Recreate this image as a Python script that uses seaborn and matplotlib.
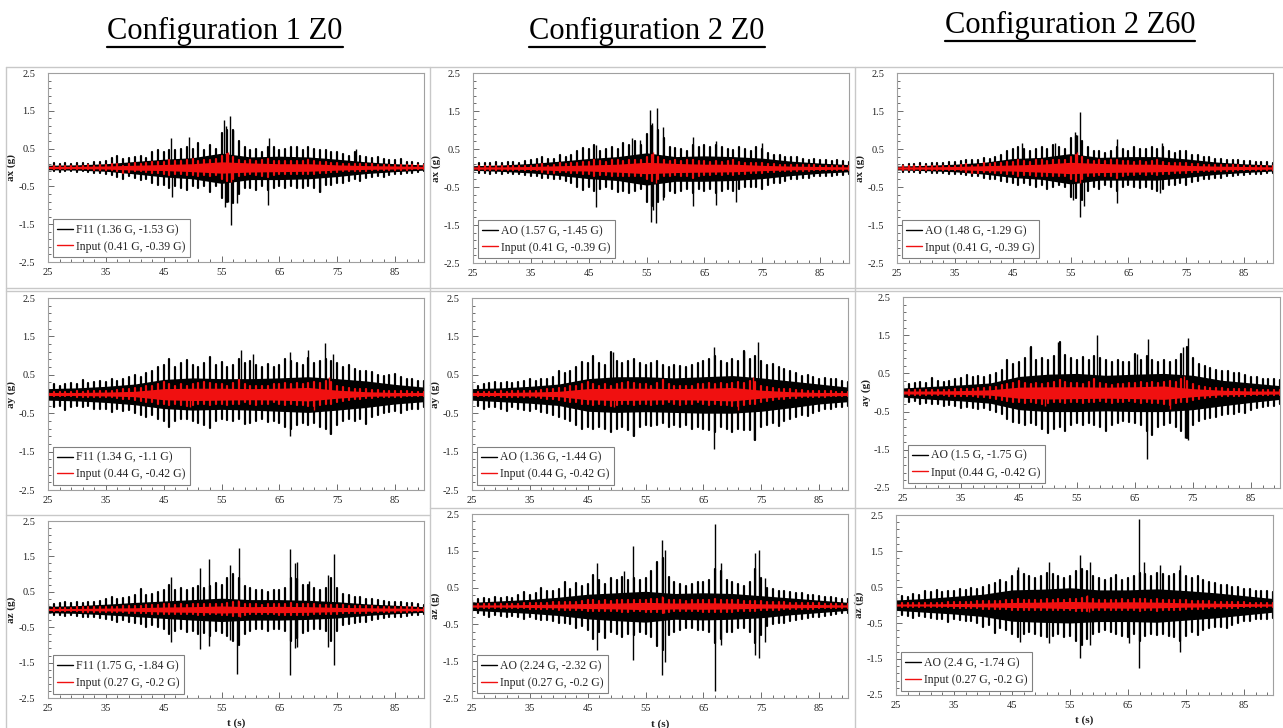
import numpy as np
import matplotlib
matplotlib.use("Agg")
import matplotlib.pyplot as plt
from matplotlib.lines import Line2D
import seaborn as sns

# ---------------------------------------------------------------- data
# coarse grid (s) for the dense core of each record, 1 s grid for its envelope
TIME_CORE = [25, 30, 35, 40, 45, 50, 55, 60, 65, 70, 75, 80, 85, 90]
TIME_ENV = list(range(25, 91))

COLUMN_TITLES = ["Configuration 1 Z0", "Configuration 2 Z0", "Configuration 2 Z60"]
COMPONENTS = ["ax", "ay", "az"]
SENSOR_NAMES = ["F11", "AO", "AO"]

# ===== ax, Configuration 1 Z0 (F11)
AX_C1_CORE_HI = [.06, .07, .10, .16, .22, .26, .38, .28, .30, .28, .22, .15, .10, .07]
AX_C1_CORE_LO = [-.06, -.07, -.10, -.17, -.25, -.30, -.42, -.32, -.32, -.30, -.24, -.16, -.11, -.07]
AX_C1_ENV_HI = [.10, .12, .10, .12, .10, .12, .12, .10, .15, .15,
                .18, .25, .30, .22, .25, .28, .30, .25, .40, .46,
                .40, .45, .45, .50, .55, .50, .64, .45, .60, .50,
                .90, 1.0, 1.0, .70, .55, .45, .50, .40, .55, .55,
                .45, .50, .55, .55, .45, .55, .50, .45, .45, .40,
                .42, .35, .30, .40, .30, .28, .25, .28, .22, .20,
                .20, .22, .15, .15, .12, .10]
AX_C1_ENV_LO = [-.10, -.10, -.12, -.10, -.10, -.12, -.10, -.12, -.15, -.15,
                -.18, -.20, -.25, -.30, -.22, -.28, -.33, -.30, -.40, -.45,
                -.45, -.55, -.50, -.55, -.60, -.50, -.55, -.50, -.64, -.50,
                -.80, -.90, -.95, -.70, -.55, -.55, -.60, -.50, -.60, -.55,
                -.50, -.55, -.50, -.55, -.55, -.50, -.55, -.64, -.45, -.45,
                -.40, -.40, -.35, -.30, -.35, -.28, -.25, -.22, -.25, -.20,
                -.18, -.18, -.15, -.15, -.12, -.10]
AX_C1_PEAK_T = [46.2, 49.3, 55.4, 55.8, 56.4, 57.0, 63.2, 78.2,
                46.4, 55.6, 56.1, 56.7, 57.6, 63.1, 72.0]
AX_C1_PEAK_V = [0.77, 0.82, 1.26, 1.10, 1.36, 1.00, 0.77, 0.50,
                -0.77, -1.04, -0.90, -1.53, -0.95, -1.00, -0.64]

# ===== ax, Configuration 2 Z0 (AO)
AX_C2_CORE_HI = [.06, .08, .12, .18, .25, .30, .40, .30, .32, .30, .26, .18, .13, .09]
AX_C2_CORE_LO = [-.06, -.09, -.13, -.20, -.28, -.33, -.45, -.35, -.35, -.33, -.28, -.20, -.14, -.10]
AX_C2_ENV_HI = [.10, .12, .12, .12, .15, .12, .15, .15, .12, .18,
                .20, .25, .30, .25, .25, .34, .30, .35, .45, .52,
                .50, .60, .45, .50, .55, .50, .65, .60, .70, .60,
                .90, 1.10, 1.0, .80, .55, .52, .50, .45, .60, .55,
                .60, .55, .60, .56, .50, .48, .55, .50, .45, .55,
                .50, .40, .35, .35, .30, .30, .28, .25, .22, .25,
                .22, .20, .18, .20, .18, .15]
AX_C2_ENV_LO = [-.10, -.12, -.12, -.15, -.12, -.15, -.12, -.15, -.15, -.18,
                -.20, -.22, -.25, -.27, -.30, -.30, -.35, -.40, -.50, -.58,
                -.50, -.60, -.55, -.50, -.55, -.62, -.60, -.67, -.60, -.55,
                -.90, -1.0, -.90, -.75, -.60, -.67, -.60, -.55, -.65, -.55,
                -.60, -.55, -.65, -.60, -.55, -.60, -.55, -.50, -.50, -.50,
                -.54, -.45, -.40, -.40, -.35, -.30, -.30, -.25, -.25, -.22,
                -.22, -.20, -.20, -.18, -.18, -.15]
AX_C2_PEAK_T = [46.2, 52.5, 53.9, 55.6, 56.0, 56.8, 57.9, 63.1, 67.0, 74.9,
                46.2, 55.7, 56.2, 56.7, 57.8, 63.1, 67.0, 70.4]
AX_C2_PEAK_V = [0.60, 0.78, 0.74, 1.53, 1.18, 1.57, 1.09, 0.81, 0.70, 0.65,
                -1.02, -1.42, -1.10, -1.45, -0.85, -1.00, -0.98, -0.89]

# ===== ax, Configuration 2 Z60 (AO)
AX_C3_CORE_HI = [.05, .07, .10, .15, .25, .28, .38, .28, .30, .30, .24, .16, .11, .08]
AX_C3_CORE_LO = [-.05, -.07, -.10, -.16, -.25, -.30, -.42, -.32, -.32, -.32, -.25, -.17, -.12, -.08]
AX_C3_ENV_HI = [.08, .08, .10, .10, .12, .10, .12, .12, .12, .15,
                .15, .18, .20, .22, .20, .26, .25, .30, .35, .45,
                .50, .55, .50, .45, .50, .55, .50, .60, .55, .50,
                .80, .85, .70, .55, .45, .45, .40, .45, .55, .50,
                .45, .55, .50, .50, .55, .50, .55, .45, .40, .45,
                .45, .35, .35, .30, .30, .25, .25, .22, .20, .20,
                .18, .18, .15, .15, .15, .12]
AX_C3_ENV_LO = [-.08, -.10, -.10, -.10, -.12, -.10, -.12, -.12, -.12, -.15,
                -.15, -.15, -.18, -.20, -.20, -.25, -.28, -.30, -.35, -.38,
                -.40, -.44, -.40, -.45, -.50, -.45, -.55, -.50, -.45, -.50,
                -.75, -.80, -.85, -.60, -.50, -.55, -.45, -.50, -.60, -.50,
                -.45, -.50, -.53, -.50, -.55, -.60, -.55, -.45, -.45, -.40,
                -.45, -.38, -.35, -.30, -.30, -.25, -.25, -.22, -.20, -.18,
                -.18, -.15, -.15, -.15, -.12, -.12]
AX_C3_PEAK_T = [46.6, 52.4, 55.7, 56.1, 56.7, 63.0, 70.8,
                55.5, 56.7, 57.3, 63.0, 70.5]
AX_C3_PEAK_V = [0.66, 0.66, 0.96, 0.88, 1.48, 0.76, 0.66,
                -0.83, -1.29, -1.00, -0.92, -0.66]

# ===== ay, Configuration 1 Z0 (F11)
AY_C1_CORE_HI = [.14, .16, .20, .26, .38, .42, .40, .40, .42, .45, .40, .34, .25, .18]
AY_C1_CORE_LO = [-.16, -.18, -.22, -.28, -.38, -.42, -.40, -.42, -.45, -.48, -.42, -.35, -.26, -.20]
AY_C1_ENV_HI = [.28, .25, .22, .25, .28, .25, .36, .28, .30, .35,
                .30, .40, .35, .38, .45, .49, .45, .55, .60, .70,
                .75, .92, .70, .80, .88, .75, .70, .80, .97, .75,
                .83, .70, .75, .90, .80, .85, .75, .70, .79, .70,
                .75, .90, .85, .80, .75, .95, .80, .85, .90, .85,
                .80, .70, .75, .65, .60, .60, .58, .50, .48, .50,
                .53, .45, .40, .40, .35, .35]
AY_C1_ENV_LO = [-.30, -.35, -.30, -.42, -.35, -.30, -.35, -.30, -.38, -.40,
                -.40, -.46, -.40, -.45, -.42, -.50, -.55, -.60, -.55, -.65,
                -.70, -.85, -.70, -.65, -.64, -.70, -.75, -.80, -.88, -.70,
                -.65, -.68, -.70, -.65, -.77, -.75, -.70, -.65, -.72, -.70,
                -.75, -.85, -.90, -.80, -.75, -.81, -.75, -.85, -.90, -1.03,
                -.80, -.70, -.65, -.70, -.65, -.77, -.60, -.55, -.50, -.48,
                -.45, -.50, -.42, -.40, -.38, -.35]
AY_C1_PEAK_T = [58.4, 60.5, 66.8, 70.0, 72.9, 74.3,
                66.8, 73.7]
AY_C1_PEAK_V = [1.14, 1.05, 1.10, 1.14, 1.34, 1.05,
                -1.10, -1.03]

# ===== ay, Configuration 2 Z0 (AO)
AY_C2_CORE_HI = [.14, .16, .20, .26, .40, .45, .45, .42, .45, .48, .42, .34, .26, .18]
AY_C2_CORE_LO = [-.16, -.20, -.24, -.30, -.45, -.48, -.46, -.48, -.50, -.50, -.45, -.36, -.26, -.20]
AY_C2_ENV_HI = [.25, .22, .25, .28, .30, .28, .30, .28, .30, .35,
                .39, .35, .38, .40, .45, .61, .55, .60, .70, .83,
                .80, .98, .80, .75, 1.10, .85, .80, .85, .91, .80,
                .75, .80, .87, .75, .70, .75, .74, .70, .75, .80,
                .85, .90, 1.0, .85, .80, .90, .85, 1.13, .90, 1.0,
                .85, .75, .78, .70, .65, .60, .55, .48, .50, .45,
                .40, .42, .38, .40, .35, .30]
AY_C2_ENV_LO = [-.25, -.30, -.40, -.35, -.35, -.38, -.44, -.35, -.40, -.42,
                -.45, -.40, -.48, -.50, -.55, -.60, -.65, -.70, -.80, -.91,
                -.85, -.90, -.85, -.90, -1.0, -.90, -.85, -.95, -1.09, -.85,
                -.80, -.83, -.80, -.75, -.87, -.80, -.85, -.80, -.91, -.85,
                -.90, -.95, -1.0, -.85, -.90, -1.0, -.90, -.95, -.95, -1.19,
                -.85, -.80, -.75, -.83, -.70, -.65, -.60, -.55, -.57, -.50,
                -.45, -.40, -.38, -.35, -.35, -.30]
AY_C2_PEAK_T = [49.4, 66.9, 72.1, 74.4,
                52.8, 66.9, 73.8]
AY_C2_PEAK_V = [1.10, 1.22, 1.13, 1.36,
                -1.09, -1.44, -1.19]

# ===== ay, Configuration 2 Z60 (AO)
AY_C3_CORE_HI = [.12, .16, .20, .25, .42, .48, .50, .45, .48, .50, .45, .32, .25, .18]
AY_C3_CORE_LO = [-.12, -.18, -.22, -.28, -.45, -.50, -.50, -.48, -.50, -.50, -.45, -.35, -.26, -.18]
AY_C3_ENV_HI = [.20, .22, .25, .28, .25, .37, .30, .28, .30, .35,
                .38, .46, .40, .42, .40, .45, .50, .60, .85, .75,
                .80, .90, 1.2, .85, .90, .85, .95, 1.33, .98, .90,
                .85, .93, .85, .95, .90, .85, .80, .85, .80, .80,
                1.0, .85, .95, .85, .80, .85, .80, .85, 1.0, 1.2,
                .90, .75, .70, .63, .60, .55, .55, .50, .50, .45,
                .40, .40, .35, .35, .35, .32]
AY_C3_ENV_LO = [-.25, -.25, -.22, -.30, -.28, -.30, -.30, -.35, -.32, -.35,
                -.41, -.38, -.40, -.42, -.40, -.45, -.50, -.55, -.70, -.76,
                -.80, -.85, -.80, -.85, -.95, -1.07, -.95, -.90, -1.02, -.85,
                -.80, -.85, -.80, -.85, -.90, -1.02, -.85, -.80, -.75, -.76,
                -.80, -.85, -1.0, -1.10, -.90, -.85, -.80, -.90, -1.0, -1.20,
                -.85, -.75, -.70, -.67, -.65, -.60, -.55, -.55, -.50, -.54,
                -.45, -.40, -.38, -.35, -.35, -.30]
AY_C3_PEAK_T = [46.9, 51.8, 58.4, 65.3, 67.3, 73.3, 74.2,
                67.1, 73.6, 74.2]
AY_C3_PEAK_V = [1.20, 1.33, 1.50, 1.02, 1.41, 1.20, 1.43,
                -1.75, -1.20, -1.24]

# ===== az, Configuration 1 Z0 (F11)
AZ_C1_CORE_HI = [.09, .11, .15, .20, .24, .28, .32, .28, .28, .26, .22, .16, .12, .08]
AZ_C1_CORE_LO = [-.09, -.11, -.15, -.20, -.25, -.30, -.34, -.30, -.30, -.28, -.24, -.17, -.12, -.08]
AZ_C1_ENV_HI = [.15, .15, .18, .20, .18, .20, .18, .22, .20, .25,
                .30, .36, .30, .32, .35, .40, .59, .40, .45, .50,
                .55, .70, .55, .60, .55, .60, .65, .60, .65, .75,
                .70, .90, 1.0, .90, .65, .60, .55, .55, .50, .55,
                .55, .60, .90, .85, .70, .70, .60, .55, .60, .90,
                .60, .45, .40, .35, .35, .30, .30, .28, .25, .22,
                .22, .20, .18, .18, .15, .12]
AZ_C1_ENV_LO = [-.12, -.15, -.15, -.18, -.15, -.18, -.20, -.20, -.22, -.25,
                -.28, -.30, -.35, -.30, -.35, -.38, -.40, -.49, -.45, -.50,
                -.55, -.70, -.60, -.55, -.63, -.60, -.70, -.65, -.75, -.60,
                -.65, -.75, -.90, -1.0, -.70, -.60, -.55, -.55, -.60, -.55,
                -.55, -.60, -.90, -.80, -.65, -.60, -.55, -.55, -.60, -.90,
                -.60, -.45, -.40, -.38, -.35, -.35, -.30, -.28, -.25, -.22,
                -.20, -.20, -.18, -.15, -.15, -.12]
AZ_C1_PEAK_T = [46.3, 51.2, 52.8, 56.4, 58.0, 66.9, 67.7, 68.1, 70.2, 73.4, 74.4,
                46.3, 51.2, 52.8, 56.4, 57.7, 66.8, 67.7, 68.1, 73.4, 74.5]
AZ_C1_PEAK_V = [0.92, 1.18, 1.44, 1.27, 1.75, 1.72, 1.30, 1.35, 0.80, 0.97, 1.58,
                -0.92, -1.12, -1.03, -0.87, -1.81, -1.84, -1.10, -1.06, -1.06, -1.58]

# ===== az, Configuration 2 Z0 (AO)
AZ_C2_CORE_HI = [.10, .14, .18, .24, .32, .36, .40, .34, .36, .34, .28, .22, .16, .10]
AZ_C2_CORE_LO = [-.12, -.16, -.20, -.26, -.35, -.40, -.44, -.36, -.38, -.36, -.32, -.24, -.18, -.12]
AZ_C2_ENV_HI = [.15, .20, .22, .20, .25, .22, .25, .22, .30, .39,
                .30, .35, .48, .40, .40, .45, .66, .45, .62, .55,
                .60, .85, .70, .60, .75, .70, .80, .70, .75, .70,
                .75, .94, 1.20, 1.30, .80, .65, .60, .55, .60, .65,
                .66, .70, 1.0, .95, .70, .65, .60, .55, .65, 1.0,
                .75, .50, .45, .40, .40, .38, .35, .35, .30, .30,
                .28, .25, .25, .22, .20, .18]
AZ_C2_ENV_LO = [-.15, -.20, -.25, -.30, -.25, -.28, -.30, -.28, -.30, -.35,
                -.30, -.35, -.38, -.38, -.40, -.45, -.45, -.50, -.61, -.55,
                -.65, -.90, -.70, -.88, -.70, -.75, -.84, -.75, -.80, -.70,
                -.75, -.85, -1.10, -1.20, -.80, -.70, -.65, -.60, -.60, -.65,
                -.65, -.70, -1.0, -.90, -.70, -.70, -.60, -.60, -.70, -1.0,
                -.80, -.55, -.50, -.45, -.45, -.40, -.38, -.35, -.32, -.30,
                -.30, -.28, -.25, -.22, -.20, -.18]
AZ_C2_PEAK_T = [46.6, 51.2, 52.9, 57.8, 58.4, 67.0, 68.0, 73.9, 74.6, 75.7,
                46.6, 52.9, 57.8, 58.4, 67.0, 68.0, 73.9, 74.6, 75.7]
AZ_C2_PEAK_V = [1.16, 0.94, 1.62, 1.80, 1.53, 2.24, 1.16, 1.44, 1.53, 0.75,
                -1.20, -1.47, -1.88, -1.52, -2.32, -1.06, -1.34, -1.41, -0.97]

# ===== az, Configuration 2 Z60 (AO)
AZ_C3_CORE_HI = [.14, .18, .24, .30, .42, .44, .48, .42, .42, .45, .40, .34, .26, .18]
AZ_C3_CORE_LO = [-.15, -.20, -.25, -.32, -.45, -.48, -.50, -.46, -.46, -.48, -.42, -.36, -.28, -.20]
AZ_C3_ENV_HI = [.20, .25, .22, .30, .28, .40, .35, .42, .35, .38,
                .40, .45, .42, .46, .45, .50, .55, .60, .70, .65,
                .80, .95, .85, .80, .75, .80, .90, .85, .80, .74,
                .80, .95, 1.0, .95, .80, .75, .70, .75, .83, .70,
                .75, .80, .90, .85, .80, .90, .85, .80, .85, .95,
                .80, .75, .80, .70, .65, .60, .55, .55, .51, .50,
                .45, .45, .40, .40, .38, .35]
AZ_C3_ENV_LO = [-.25, -.28, -.30, -.35, -.30, -.32, -.35, -.38, -.40, -.46,
                -.40, -.42, -.45, -.45, -.50, -.60, -.55, -.79, -.65, -.70,
                -.80, -.90, -.80, -.75, -.80, -.85, -.90, -.85, -.80, -.90,
                -.85, -1.0, -1.10, -.95, -.80, -.75, -.70, -.75, -.80, -.85,
                -.90, -.80, -1.0, -.85, -.80, -.83, -.80, -.85, -.90, -1.0,
                -.85, -.75, -.83, -.70, -.65, -.60, -.60, -.65, -.55, -.50,
                -.45, -.45, -.40, -.40, -.38, -.35]
AZ_C3_PEAK_T = [46.1, 51.3, 56.8, 58.5, 66.9, 67.7, 70.6, 74.0,
                46.4, 51.3, 56.8, 58.5, 65.1, 66.9, 74.0]
AZ_C3_PEAK_V = [1.06, 1.20, 1.39, 1.20, 2.40, 1.20, 1.11, 1.11,
                -1.02, -1.06, -1.48, -1.11, -1.06, -1.74, -1.30]

# ===== table input (same excitation for the three configurations)
AX_IN_CORE_HI = [.03, .03, .04, .06, .08, .10, .15, .12, .10, .10, .07, .05, .04, .03]
AX_IN_CORE_LO = [-.03, -.03, -.04, -.07, -.08, -.11, -.15, -.12, -.11, -.10, -.07, -.05, -.04, -.03]
AX_IN_ENV_HI = [.05, .05, .05, .05, .05, .05, .05, .06, .05, .06,
                .06, .08, .10, .05, .08, .12, .10, .12, .14, .15,
                .15, .20, .18, .16, .20, .22, .18, .20, .20, .22,
                .30, .35, .28, .20, .18, .20, .18, .20, .22, .18,
                .18, .16, .18, .16, .18, .20, .16, .14, .14, .12,
                .12, .10, .10, .09, .08, .08, .08, .07, .07, .07,
                .06, .06, .06, .06, .06, .06]
AX_IN_ENV_LO = [-.04, -.05, -.05, -.05, -.05, -.05, -.05, -.05, -.06, -.06,
                -.06, -.06, -.10, -.14, -.12, -.10, -.10, -.12, -.14, -.15,
                -.16, -.20, -.18, -.18, -.20, -.20, -.22, -.20, -.22, -.20,
                -.30, -.35, -.30, -.22, -.20, -.18, -.20, -.22, -.25, -.20,
                -.18, -.18, -.16, -.18, -.16, -.18, -.16, -.15, -.14, -.12,
                -.12, -.10, -.10, -.08, -.08, -.08, -.07, -.07, -.07, -.06,
                -.06, -.06, -.06, -.05, -.05, -.05]
AX_IN_PEAK_T = [56.2, 56.6]
AX_IN_PEAK_V = [0.41, -0.39]

AY_IN_CORE_HI = [.04, .04, .05, .07, .14, .15, .15, .14, .15, .17, .10, .06, .04, .04]
AY_IN_CORE_LO = [-.04, -.04, -.05, -.07, -.15, -.17, -.16, -.15, -.16, -.18, -.11, -.06, -.05, -.04]
AY_IN_ENV_HI = [.06, .06, .06, .06, .06, .07, .06, .07, .07, .08,
                .08, .08, .10, .12, .12, .15, .15, .20, .22, .25,
                .30, .25, .22, .25, .22, .25, .28, .32, .28, .25,
                .25, .22, .28, .36, .25, .22, .20, .22, .22, .25,
                .25, .28, .25, .28, .25, .28, .30, .28, .35, .30,
                .22, .18, .15, .12, .12, .12, .10, .10, .08, .08,
                .08, .07, .07, .06, .06, .06]
AY_IN_ENV_LO = [-.06, -.06, -.06, -.06, -.06, -.07, -.07, -.07, -.08, -.08,
                -.08, -.09, -.10, -.12, -.12, -.15, -.18, -.20, -.22, -.25,
                -.25, -.28, -.25, -.28, -.30, -.28, -.25, -.25, -.28, -.25,
                -.25, -.28, -.25, -.25, -.22, -.25, -.28, -.25, -.25, -.22,
                -.25, -.28, -.25, -.28, -.28, -.30, -.32, -.28, -.25, -.25,
                -.20, -.18, -.15, -.12, -.12, -.10, -.10, -.09, -.08, -.08,
                -.07, -.07, -.06, -.06, -.06, -.06]
AY_IN_PEAK_T = [73.5, 49.5, 71.0]
AY_IN_PEAK_V = [0.44, -0.35, -0.42]

AZ_IN_CORE_HI = [.03, .03, .04, .05, .07, .08, .10, .08, .09, .08, .06, .05, .04, .03]
AZ_IN_CORE_LO = [-.03, -.03, -.04, -.05, -.07, -.08, -.10, -.08, -.09, -.08, -.06, -.05, -.04, -.03]
AZ_IN_ENV_HI = [.05, .05, .05, .05, .05, .06, .06, .06, .06, .07,
                .07, .08, .08, .09, .10, .10, .11, .12, .12, .14,
                .15, .16, .14, .15, .14, .15, .16, .15, .16, .15,
                .16, .18, .20, .22, .16, .15, .15, .14, .15, .16,
                .15, .16, .18, .16, .15, .16, .15, .14, .13, .14,
                .13, .12, .11, .10, .10, .09, .09, .08, .08, .07,
                .07, .06, .06, .06, .05, .05]
AZ_IN_ENV_LO = [-.05, -.05, -.05, -.05, -.05, -.05, -.06, -.06, -.06, -.06,
                -.07, -.07, -.08, -.08, -.09, -.10, -.10, -.11, -.12, -.12,
                -.13, -.14, -.13, -.14, -.13, -.14, -.15, -.15, -.14, -.14,
                -.15, -.16, -.17, -.18, -.15, -.14, -.14, -.13, -.14, -.14,
                -.15, -.15, -.16, -.15, -.15, -.16, -.14, -.13, -.13, -.13,
                -.12, -.11, -.10, -.10, -.09, -.09, -.08, -.08, -.07, -.07,
                -.06, -.06, -.06, -.05, -.05, -.05]
AZ_IN_PEAK_T = [57.9, 58.2]
AZ_IN_PEAK_V = [0.27, -0.20]

RESPONSE = {
    ("ax", 0): (AX_C1_CORE_HI, AX_C1_CORE_LO, AX_C1_ENV_HI, AX_C1_ENV_LO, AX_C1_PEAK_T, AX_C1_PEAK_V),
    ("ax", 1): (AX_C2_CORE_HI, AX_C2_CORE_LO, AX_C2_ENV_HI, AX_C2_ENV_LO, AX_C2_PEAK_T, AX_C2_PEAK_V),
    ("ax", 2): (AX_C3_CORE_HI, AX_C3_CORE_LO, AX_C3_ENV_HI, AX_C3_ENV_LO, AX_C3_PEAK_T, AX_C3_PEAK_V),
    ("ay", 0): (AY_C1_CORE_HI, AY_C1_CORE_LO, AY_C1_ENV_HI, AY_C1_ENV_LO, AY_C1_PEAK_T, AY_C1_PEAK_V),
    ("ay", 1): (AY_C2_CORE_HI, AY_C2_CORE_LO, AY_C2_ENV_HI, AY_C2_ENV_LO, AY_C2_PEAK_T, AY_C2_PEAK_V),
    ("ay", 2): (AY_C3_CORE_HI, AY_C3_CORE_LO, AY_C3_ENV_HI, AY_C3_ENV_LO, AY_C3_PEAK_T, AY_C3_PEAK_V),
    ("az", 0): (AZ_C1_CORE_HI, AZ_C1_CORE_LO, AZ_C1_ENV_HI, AZ_C1_ENV_LO, AZ_C1_PEAK_T, AZ_C1_PEAK_V),
    ("az", 1): (AZ_C2_CORE_HI, AZ_C2_CORE_LO, AZ_C2_ENV_HI, AZ_C2_ENV_LO, AZ_C2_PEAK_T, AZ_C2_PEAK_V),
    ("az", 2): (AZ_C3_CORE_HI, AZ_C3_CORE_LO, AZ_C3_ENV_HI, AZ_C3_ENV_LO, AZ_C3_PEAK_T, AZ_C3_PEAK_V),
}
INPUT = {
    "ax": (AX_IN_CORE_HI, AX_IN_CORE_LO, AX_IN_ENV_HI, AX_IN_ENV_LO, AX_IN_PEAK_T, AX_IN_PEAK_V),
    "ay": (AY_IN_CORE_HI, AY_IN_CORE_LO, AY_IN_ENV_HI, AY_IN_ENV_LO, AY_IN_PEAK_T, AY_IN_PEAK_V),
    "az": (AZ_IN_CORE_HI, AZ_IN_CORE_LO, AZ_IN_ENV_HI, AZ_IN_ENV_LO, AZ_IN_PEAK_T, AZ_IN_PEAK_V),
}

X_TICKS = [25, 35, 45, 55, 65, 75, 85]
Y_TICKS = [-2.5, -1.5, -0.5, 0.5, 1.5, 2.5]

# ---------------------------------------------------------------- style
sns.set_theme(style="white")
SERIF = ["Liberation Serif", "DejaVu Serif"]
plt.rcParams["font.family"] = SERIF

W, H = 1283, 728
fig = plt.figure(figsize=(W / 100, H / 100), dpi=100)
fig.patch.set_facecolor("white")

# axes boxes in pixels: (left, top, right, bottom)
BOXES = {
    (0, 0): (48, 73, 424, 262), (0, 1): (473, 73, 849, 263), (0, 2): (897, 73, 1273, 263),
    (1, 0): (48, 298, 424, 490), (1, 1): (472, 298, 848, 490), (1, 2): (903, 297, 1280, 488),
    (2, 0): (48, 521, 424, 698), (2, 1): (472, 514, 848, 698), (2, 2): (896, 515, 1273, 695),
}

BLACK = "#000000"
RED = "#f01010"
SPINE = "#a0a0a0"


def fmt(v):
    return f"{v:g}"


def draw_trace(ax, rec, color, label, z):
    core_hi, core_lo, env_hi, env_lo, peak_t, peak_v = rec
    # solid core of the record
    ax.fill_between(TIME_CORE, core_lo, core_hi, color=color, lw=0, zorder=z)
    # per-second max/min of the record, one vertical stroke per second
    xs = np.repeat(np.asarray(TIME_ENV, dtype=float), 2)
    ys = np.column_stack([env_hi, env_lo]).ravel()
    units = np.repeat(np.arange(len(TIME_ENV)), 2)
    sns.lineplot(x=xs, y=ys, units=units, ax=ax, color=color, lw=1.6, label=label,
                 estimator=None, sort=False, zorder=z + 0.1)
    # isolated peaks
    ax.vlines(peak_t, 0, peak_v, color=color, lw=1.0, zorder=z + 0.2)


def extremes(rec):
    _, _, env_hi, env_lo, _, peak_v = rec
    return max(max(env_hi), max(peak_v)), min(min(env_lo), min(peak_v))


for r, comp in enumerate(COMPONENTS):
    for c in range(3):
        l, t, rr, b = BOXES[(r, c)]
        ax = fig.add_axes([l / W, 1 - b / H, (rr - l) / W, (b - t) / H])
        ax.set_facecolor("white")

        rec = RESPONSE[(comp, c)]
        hi, lo = extremes(rec)
        draw_trace(ax, rec, BLACK, f"{SENSOR_NAMES[c]} ({fmt(hi)} G, {fmt(lo)} G)", 2)

        irec = INPUT[comp]
        ihi, ilo = extremes(irec)
        draw_trace(ax, irec, RED, f"Input ({fmt(ihi)} G, {fmt(ilo)} G)", 3)

        ax.set_xlim(25, 90)
        ax.set_ylim(-2.5, 2.5)
        ax.set_xticks(X_TICKS)
        ax.set_xticks(np.arange(25, 91, 2), minor=True)
        ax.set_yticks(Y_TICKS)
        ax.set_yticks(np.arange(-2.5, 2.51, 0.2), minor=True)
        ax.set_xticklabels([str(v) for v in X_TICKS])
        ax.set_yticklabels([fmt(v) for v in Y_TICKS])
        ax.tick_params(which="both", direction="in", top=False, right=False,
                       left=True, bottom=True, colors="#555555", labelcolor="#222222",
                       labelsize=7.5, width=0.6)
        ax.tick_params(which="major", length=4)
        ax.tick_params(which="minor", length=2)
        ax.tick_params(axis="y", pad=9)
        ax.tick_params(axis="x", pad=4)
        for s in ax.spines.values():
            s.set_color(SPINE)
            s.set_linewidth(0.8)
            s.set_zorder(5)

        ax.set_ylabel(f"{comp} (g)", fontsize=8, fontweight="bold", color="#222222")
        ax.yaxis.set_label_coords(-0.085, 0.5)
        if r == 2:
            ax.set_xlabel("t (s)", fontsize=8, fontweight="bold", color="#222222")
            ax.xaxis.set_label_coords(0.5, -0.115)
        else:
            ax.set_xlabel("")

        # one legend entry per record
        handles, labels = ax.get_legend_handles_labels()
        seen = {}
        for h, lab in zip(handles, labels):
            seen.setdefault(lab, h)
        leg = ax.legend(list(seen.values()), list(seen.keys()),
                        loc="lower left", bbox_to_anchor=(0.012, 0.025), borderaxespad=0,
                        fontsize=8.5, frameon=True, fancybox=False, edgecolor="#808080",
                        framealpha=1, borderpad=0.4, handlelength=1.3, handletextpad=0.25,
                        labelspacing=0.4)
        leg.get_frame().set_linewidth(0.8)
        leg.set_zorder(10)
        for h in leg.get_lines():
            h.set_linewidth(1.0)

# panel frames
FRAME = "#c8c8c8"


def hline(y, x0, x1):
    fig.add_artist(Line2D([x0 / W, x1 / W], [1 - y / H, 1 - y / H], color=FRAME, lw=1))


def vline(x, y0, y1):
    fig.add_artist(Line2D([x / W, x / W], [1 - y0 / H, 1 - y1 / H], color=FRAME, lw=1))


hline(67, 6, 1283)
hline(288, 6, 1283)
hline(291, 6, 1283)
hline(515, 6, 430)
hline(508, 430, 1283)
vline(6, 67, 728)
vline(430, 67, 728)
vline(855, 67, 728)

# column titles, underlined
TITLE_POS = [(225, 31), (647, 31), (1070, 25)]
texts = []
for (cx, cy), title in zip(TITLE_POS, COLUMN_TITLES):
    txt = fig.text(cx / W, 1 - cy / H, title, ha="center", va="center", fontsize=22,
                   color="black")
    texts.append(txt)
fig.canvas.draw()
renderer = fig.canvas.get_renderer()
for txt in texts:
    bb = txt.get_window_extent(renderer)
    y = bb.y0 / H - 1.0 / H
    fig.add_artist(Line2D([bb.x0 / W, bb.x1 / W], [y, y], color="black", lw=1.6))

fig.savefig("out.png", dpi=100, facecolor="white")
